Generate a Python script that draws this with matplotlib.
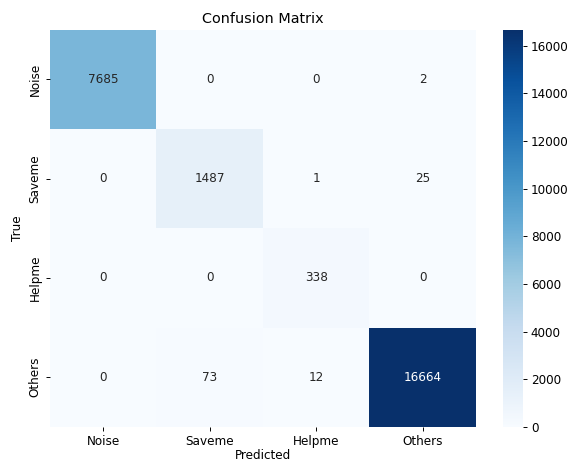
import numpy as np
import matplotlib
matplotlib.use("Agg")
import matplotlib.pyplot as plt
import seaborn as sns

labels = ["Noise", "Saveme", "Helpme", "Others"]
cm = np.array([
    [7685, 0, 0, 2],
    [0, 1487, 1, 25],
    [0, 0, 338, 0],
    [0, 73, 12, 16664],
])

dpi = 86
fig = plt.figure(figsize=(568 / dpi, 464 / dpi), dpi=dpi)
ax = fig.add_axes([0.088, 0.08, 0.75, 0.856])
cax = fig.add_axes([0.886, 0.08, 0.034, 0.856])
sns.heatmap(cm, annot=True, fmt="d", cmap="Blues", xticklabels=labels,
            yticklabels=labels, ax=ax, cbar_ax=cax)
ax.set_title("Confusion Matrix")
ax.set_xlabel("Predicted", labelpad=1)
ax.set_ylabel("True")
fig.savefig("out.png", dpi=dpi)
